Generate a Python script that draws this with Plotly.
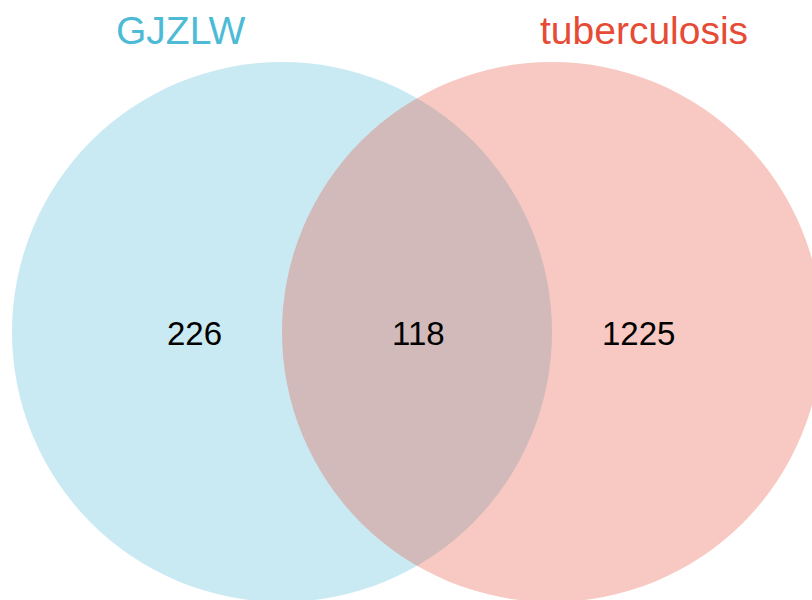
import plotly.graph_objects as go

# set names and region counts
set_names = ["GJZLW", "tuberculosis"]
set_colors = ["#4DBBD5", "#E64B35"]
region_labels = ["226", "118", "1225"]  # only left, both, only right

# canvas geometry (pixel space, y downward)
W, H = 812, 600
circle_cx = [282, 552]
circle_cy = 332
radius = 270
name_pos = [(180, 30), (644, 30)]
count_pos = [(194, 333), (418, 333), (638, 333)]

fig = go.Figure()

for cx, color in zip(circle_cx, set_colors):
    fig.add_shape(
        type="circle",
        xref="x", yref="y",
        x0=cx - radius, x1=cx + radius,
        y0=circle_cy - radius, y1=circle_cy + radius,
        fillcolor=color, opacity=0.3,
        line=dict(width=0),
        layer="below",
    )

for name, color, (x, y) in zip(set_names, set_colors, name_pos):
    fig.add_annotation(
        x=x, y=y, text=name, showarrow=False,
        font=dict(family="Liberation Sans, Arial", size=39, color=color),
    )

for label, (x, y) in zip(region_labels, count_pos):
    fig.add_annotation(
        x=x, y=y, text=label, showarrow=False,
        font=dict(family="Liberation Sans, Arial", size=33, color="black"),
    )

fig.update_layout(
    width=W, height=H,
    margin=dict(l=0, r=0, t=0, b=0),
    plot_bgcolor="white",
    paper_bgcolor="white",
    showlegend=False,
    xaxis=dict(range=[0, W], visible=False, fixedrange=True),
    yaxis=dict(range=[H, 0], visible=False, fixedrange=True),
)

# drop the default page margin so the figure fills the window exactly
fig.write_html(
    "out.html",
    config={"displayModeBar": False},
    post_script="document.body.style.margin='0';document.body.style.overflow='hidden';",
)
